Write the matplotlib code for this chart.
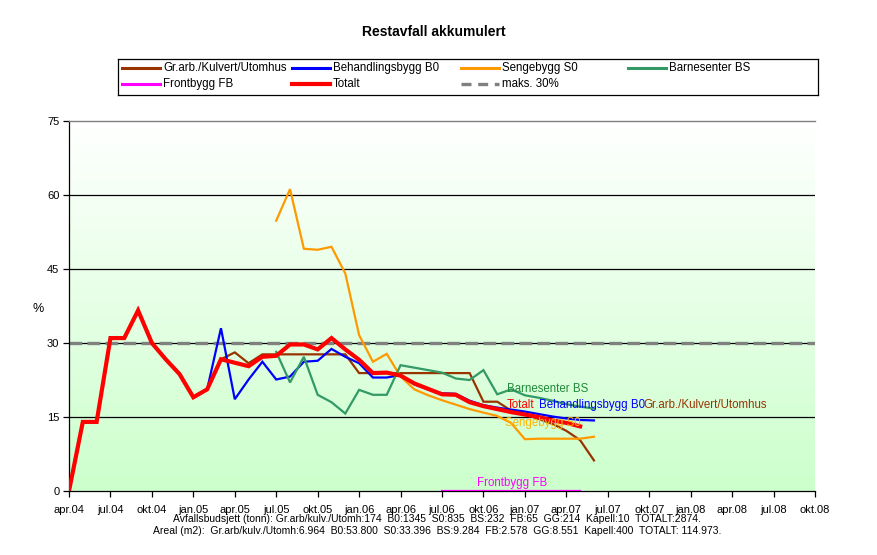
import numpy as np
import matplotlib
matplotlib.use("Agg")
import matplotlib.pyplot as plt
from matplotlib.colors import LinearSegmentedColormap

plt.rcParams.update({"font.family": "Liberation Sans", "font.size": 8})

# months counted from apr.04 (index 0) to okt.08 (index 54)
tick_labels = ["apr.04", "jul.04", "okt.04", "jan.05", "apr.05", "jul.05", "okt.05",
               "jan.06", "apr.06", "jul.06", "okt.06", "jan.07", "apr.07", "jul.07",
               "okt.07", "jan.08", "apr.08", "jul.08", "okt.08"]

totalt = [0, 14, 14, 31, 31, 36.6, 30, 26.7, 23.7, 19.0, 20.6, 26.7, 26.0, 25.3,
          27.2, 27.4, 29.7, 29.7, 28.7, 31.0, 28.7, 26.6, 23.9, 24.0, 23.4, 21.8,
          20.7, 19.6, 19.5, 18.0, 17.2, 16.6, 16.0, 15.5, 15.0, 14.3, 13.8, 13.1]
totalt_start = 0

grarb = [0, 14, 14, 31, 31, 36.6, 30, 26.7, 23.7, 19.0, 20.6, 26.7, 28.1, 25.9,
         27.7, 27.7, 27.7, 27.7, 27.7, 27.7, 27.7, 23.9, 23.9, 23.9, 23.9, 23.9,
         23.9, 23.9, 23.9, 23.9, 18.1, 18.1, 16.3, 15.6, 14.6, 13.6, 12.2, 10.3, 6.2]
grarb_start = 0

b0 = [20.6, 33.0, 18.6, 22.6, 26.2, 22.6, 23.2, 26.2, 26.4, 28.8, 27.2, 25.9,
      23.0, 23.0, 23.5, 21.6, 20.6, 19.8, 19.7, 18.3, 17.4, 16.9, 16.5, 16.1,
      15.6, 15.1, 14.7, 14.4, 14.3]
b0_start = 10

s0 = [54.8, 61.2, 49.1, 48.9, 49.5, 44.1, 31.6, 26.2, 27.8, 23.2, 20.6, 19.4,
      18.4, 17.5, 16.6, 15.9, 15.2, 13.8, 10.5, 10.6, 10.6, 10.6, 10.6, 11.0]
s0_start = 15

bs = [28.2, 22.0, 27.2, 19.5, 18.0, 15.7, 20.5, 19.5, 19.5, 25.5, 25.0, 24.5,
      24.0, 22.8, 22.5, 24.5, 19.6, 20.6, 19.4, 18.9, 18.3, 17.6, 17.1, 16.7]
bs_start = 15

fb = [0, 0, 0, 0, 0, 0, 0, 0, 0, 0, 0]
fb_start = 27

maks = 30
n_months = 55

c_brown = "#993300"
c_blue = "#0000ff"
c_orange = "#ff9900"
c_green = "#339966"
c_magenta = "#ff00ff"
c_red = "#ff0000"
c_gray = "#808080"

W, H = 878, 555
fig = plt.figure(figsize=(W / 100, H / 100), dpi=100)
ax = fig.add_axes([69 / W, 64 / H, 746 / W, 370 / H])

# background gradient
bg = LinearSegmentedColormap.from_list("bg", ["#ccffcc", "#ffffff"])
ax.imshow(np.linspace(0, 1, 256).reshape(-1, 1), extent=[0, 54, 0, 75],
          cmap=bg, origin="lower", aspect="auto", zorder=0)

for y in [15, 30, 45, 60]:
    ax.axhline(y, color="black", lw=0.9, zorder=1)

months = np.arange(n_months)
ax.plot(months, [maks] * n_months, color=c_gray, lw=2.4, dashes=(3.8, 1.6), zorder=2)


def series(vals, start, color, lw):
    x = np.arange(start, start + len(vals))
    ax.plot(x, vals, color=color, lw=lw, zorder=3, solid_joinstyle="miter")


series(grarb, grarb_start, c_brown, 1.6)
series(b0, b0_start, c_blue, 1.6)
series(s0, s0_start, c_orange, 1.6)
series(bs, bs_start, c_green, 1.6)
series(fb, fb_start, c_magenta, 1.6)
series(totalt, totalt_start, c_red, 3.0)

# labels in the plot
lfs = 8.3
ax.text(31.7, 20.7, "Barnesenter BS", color="#1f8a3a", va="center", fontsize=lfs, zorder=4)
ax.text(31.7, 17.4, "Totalt", color=c_red, va="center", fontsize=lfs, zorder=4)
ax.text(34.0, 17.4, "Behandlingsbygg B0", color=c_blue, va="center", fontsize=lfs, zorder=4)
ax.text(41.55, 17.4, "Gr.arb./Kulvert/Utomhus", color=c_brown, va="center", fontsize=lfs, zorder=4)
ax.text(31.55, 13.8, "Sengebygg S0", color="#ffb300", va="center", fontsize=lfs, zorder=4)
ax.text(29.5, 1.7, "Frontbygg FB", color=c_magenta, va="center", fontsize=lfs, zorder=4)

ax.set_xlim(0, 54)
ax.set_ylim(0, 75)
ax.set_xticks(np.arange(0, 55, 3))
ax.set_xticklabels(tick_labels)
ax.set_yticks([0, 15, 30, 45, 60, 75])
ax.tick_params(direction="out", length=4, width=0.9, pad=3, labelsize=8)
ax.tick_params(axis="x", pad=6)
for s in ["left", "bottom"]:
    ax.spines[s].set_color("black")
    ax.spines[s].set_linewidth(0.9)
ax.spines["top"].set_color(c_gray)
ax.spines["top"].set_linewidth(1.0)
ax.spines["right"].set_visible(False)

fig.text(38 / W, 1 - 309 / H, "%", fontsize=9, ha="center", va="center")
fig.text(434 / W, 1 - 32 / H, "Restavfall akkumulert", fontsize=10,
         fontweight="bold", ha="center", va="center")

# legend box drawn in pixel space
lax = fig.add_axes([118 / W, 1 - 95 / H, 700 / W, 36 / H])
lax.set_xlim(118, 818)
lax.set_ylim(95, 59)
lax.set_xticks([])
lax.set_yticks([])
for s in lax.spines.values():
    s.set_linewidth(0.9)
entries = [
    ("Gr.arb./Kulvert/Utomhus", c_brown, 122, 68, 2.2, None),
    ("Behandlingsbygg B0", c_blue, 292, 68, 2.2, None),
    ("Sengebygg S0", c_orange, 461, 68, 2.2, None),
    ("Barnesenter BS", c_green, 628, 68, 2.2, None),
    ("Frontbygg FB", c_magenta, 122, 84, 2.2, None),
    ("Totalt", c_red, 292, 84, 3.0, None),
    ("maks. 30%", c_gray, 461, 84, 2.4, (3.0, 2.0)),
]
for name, col, x0, y0, lw, dash in entries:
    if dash:
        lax.plot([x0, x0 + 38], [y0, y0], color=col, lw=lw, dashes=dash)
    else:
        lax.plot([x0, x0 + 38], [y0, y0], color=col, lw=lw)
    lax.text(x0 + 41, y0, name, va="center", ha="left", fontsize=8.3)

fig.text(437 / W, 1 - 519 / H,
         "Avfallsbudsjett (tonn): Gr.arb/kulv./Utomh:174  B0:1345  S0:835  BS:232  "
         "FB:65  GG:214  Kapell:10  TOTALT:2874.",
         fontsize=7.5, ha="center", va="center")
fig.text(437 / W, 1 - 531 / H,
         "Areal (m2):  Gr.arb/kulv./Utomh:6.964  B0:53.800  S0:33.396  BS:9.284  "
         "FB:2.578  GG:8.551  Kapell:400  TOTALT: 114.973.",
         fontsize=7.5, ha="center", va="center")

fig.savefig("out.png", dpi=100)
